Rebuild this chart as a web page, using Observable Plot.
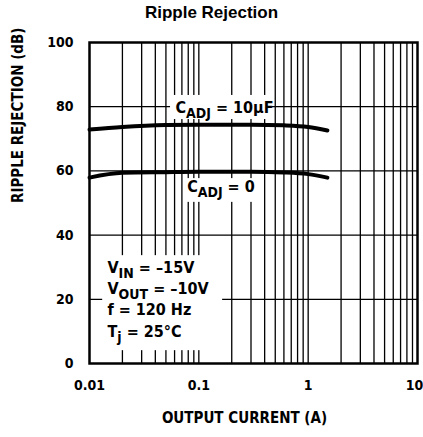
<!DOCTYPE html>
<html><head><meta charset="utf-8">
<script src="https://cdn.jsdelivr.net/npm/d3@7"></script>
<script src="https://cdn.jsdelivr.net/npm/@observablehq/plot@0.6"></script>
<style>
html,body{margin:0;padding:0;background:#fff;}
#title{width:423px;height:30px;box-sizing:border-box;padding-top:3px;line-height:27px;text-align:center;font:bold 17px "Liberation Sans",Arial,sans-serif;color:#000;}
#chart svg{display:block;}
</style></head><body>
<div id="title">Ripple Rejection</div>
<div id="chart"></div>
<script>
// Data
const currents      = [0.01, 0.02, 0.05, 0.1, 0.3, 0.6, 1, 1.5];
const rejection10uF = [72.9, 73.7, 74.3, 74.4, 74.4, 74.2, 73.7, 72.6];
const rejection0    = [57.9, 59.4, 59.6, 59.7, 59.7, 59.5, 59.0, 57.9];

const xTicks = [0.01, 0.1, 1, 10];
const xTickLabels = ["0.01", "0.1", "1", "10"];
const yTicks = [0, 20, 40, 60, 80, 100];
const xGrid = [0.02,0.03,0.04,0.05,0.06,0.07,0.08,0.09,0.1,0.2,0.3,0.4,0.5,0.6,0.7,0.8,0.9,1,2,3,4,5,6,7,8,9];
const yGrid = [20, 40, 60, 80];

const xLabel = "OUTPUT CURRENT (A)";
const yLabel = "RIPPLE REJECTION (dB)";

const labelText = ["C_{ADJ} = 10µF", "C_{ADJ} = 0", "V_{IN} = –15V", "V_{OUT} = –10V", "f = 120 Hz", "T_{j} = 25°C"];
const labelX = [0.0612, 0.0782, 0.0146, 0.0146, 0.0146, 0.0146];
const labelY = [77.9, 53.3, 28.3, 21.8, 15.0, 8.4];

// white backgrounds behind the annotations (data units)
const maskX1 = [0.0551, 0.074, 0.0132];
const maskX2 = [0.47, 0.383, 0.165];
const maskY1 = [76.0, 50.2, 4.0];
const maskY2 = [83.5, 57.6, 33.6];

const seriesTable = [
  ...currents.map((c, i) => ({series: "10uF", current: c, value: rejection10uF[i]})),
  ...currents.map((c, i) => ({series: "0", current: c, value: rejection0[i]}))
];
const labels = labelText.map((t, i) => ({text: t, x: labelX[i], y: labelY[i]}));
const masks = maskX1.map((x1, i) => ({x1, x2: maskX2[i], y1: maskY1[i], y2: maskY2[i]}));

const condensed = '"DejaVu Sans Condensed","Liberation Sans Narrow",sans-serif';
const fmtX = d => xTickLabels[xTicks.indexOf(d)];

const plot = Plot.plot({
  width: 423, height: 407,
  marginTop: 12, marginBottom: 74, marginLeft: 89, marginRight: 6,
  style: {fontFamily: condensed, fontWeight: "bold", fontSize: "14px", color: "#000", background: "#fff", overflow: "visible"},
  x: {type: "log", domain: [0.01, 10]},
  y: {domain: [0, 100]},
  marks: [
    Plot.ruleX(xGrid, {stroke: "#000", strokeWidth: 1.3}),
    Plot.ruleY(yGrid, {stroke: "#000", strokeWidth: 1.3}),
    Plot.rect(masks, {x1: "x1", x2: "x2", y1: "y1", y2: "y2", fill: "#fff"}),
    Plot.line(seriesTable, {x: "current", y: "value", z: "series", stroke: "#000", strokeWidth: 4, curve: "monotone-x"}),
    Plot.frame({stroke: "#000", strokeWidth: 2.5}),
    Plot.text(labels, {x: "x", y: "y", text: "text", textAnchor: "start", lineAnchor: "bottom", fontSize: 16, fill: "#000"}),
    Plot.axisX({ticks: xTicks.slice(0, 3), tickFormat: fmtX, tickSize: 0, tickPadding: 17, label: null}),
    Plot.axisX({ticks: xTicks.slice(3), tickFormat: fmtX, tickSize: 0, tickPadding: 17, label: null, dx: -3}),
    Plot.axisY({ticks: yTicks, tickSize: 0, tickPadding: 16, label: null}),
    Plot.text([xLabel], {text: d => d, frameAnchor: "bottom", dy: 59, dx: -9, fontSize: 15}),
    Plot.text([yLabel], {text: d => d, frameAnchor: "left", rotate: -90, dx: -71, fontSize: 15})
  ]
});

// subscripts
const NS = "http://www.w3.org/2000/svg";
plot.querySelectorAll("text").forEach(t => {
  const s = t.textContent;
  if (!s.includes("_{")) return;
  t.textContent = "";
  const re = /_\{([^}]*)\}/g;
  let last = 0, m, down = false;
  const add = (str, dy, size) => {
    const ts = document.createElementNS(NS, "tspan");
    ts.textContent = str;
    if (dy) ts.setAttribute("dy", dy);
    if (size) ts.setAttribute("font-size", size);
    t.appendChild(ts);
  };
  while ((m = re.exec(s))) {
    if (m.index > last) add(s.slice(last, m.index), down ? -5 : 0);
    add(m[1], 5, 14);
    down = true;
    last = re.lastIndex;
  }
  if (last < s.length) add(s.slice(last), down ? -5 : 0);
});

document.getElementById("chart").appendChild(plot);
</script>
</body></html>
